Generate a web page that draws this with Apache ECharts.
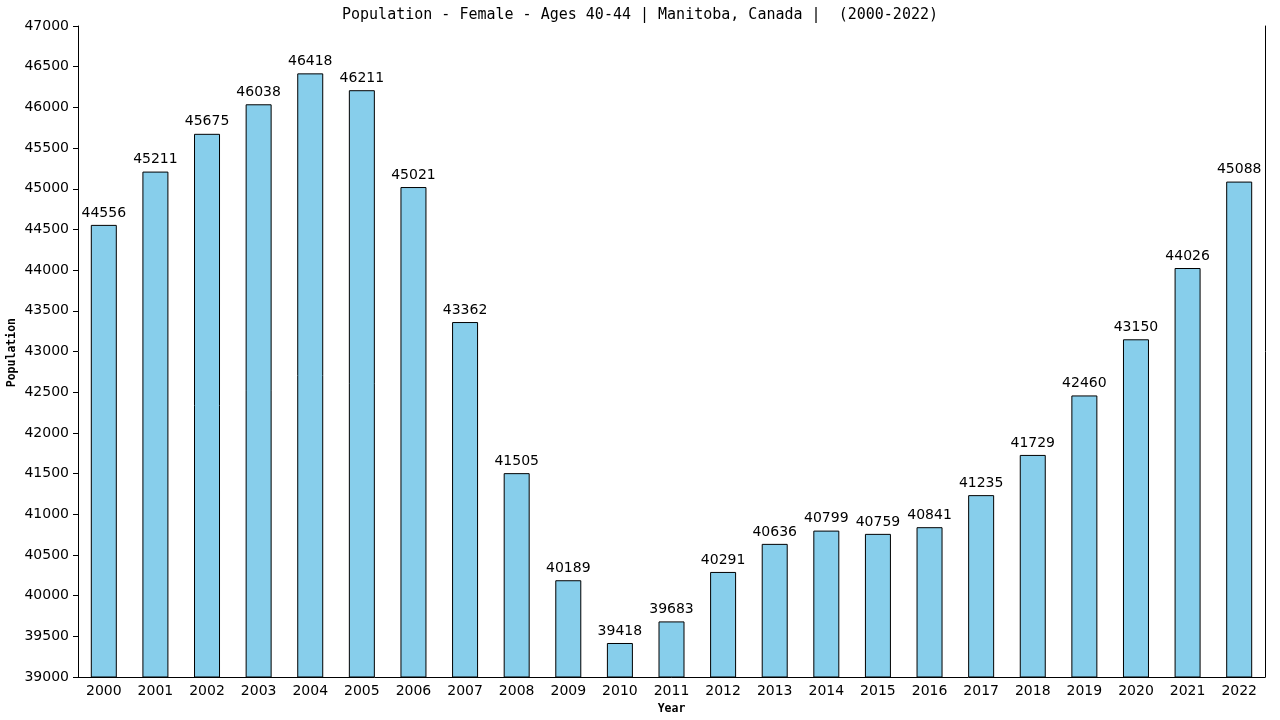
<!DOCTYPE html>
<html><head><meta charset="utf-8">
<script src="https://cdn.jsdelivr.net/npm/echarts@6/dist/echarts.min.js"></script>
<style>html,body{margin:0;padding:0;background:#fff}#c{width:1280px;height:720px}</style>
</head><body><div id="c"></div>
<script>
var years = ["2000","2001","2002","2003","2004","2005","2006","2007","2008","2009","2010","2011","2012","2013","2014","2015","2016","2017","2018","2019","2020","2021","2022"];
var population = [44556,45211,45675,46038,46418,46211,45021,43362,41505,40189,39418,39683,40291,40636,40799,40759,40841,41235,41729,42460,43150,44026,45088];
var titleText = "Population - Female - Ages 40-44 | Manitoba, Canada |  (2000-2022)";
var yName = "Population";
var chart = echarts.init(document.getElementById('c'));
chart.setOption({
  animation: false,
  title: {text: titleText, left: 'center', top: 3, textStyle: {fontFamily: 'DejaVu Sans Mono', fontSize: 15, fontWeight: 'normal', color: '#000'}},
  grid: {left: 78, right: 15, top: 26, bottom: 43, outerBoundsMode: 'none', containLabel: false},
  graphic: [{type: 'text', left: 6, top: 318, rotation: Math.PI / 2, origin: [0, 0],
    style: {text: yName, font: 'bold 11.5px "DejaVu Sans Mono"', fill: '#000'}}],
  xAxis: {type: 'category', data: years, name: 'Year', nameLocation: 'middle', nameGap: 26,
    nameTextStyle: {fontFamily: 'DejaVu Sans Mono', fontSize: 11.5, fontWeight: 'bold', color: '#000'},
    axisLine: {lineStyle: {color: '#000'}}, axisTick: {show: false},
    axisLabel: {fontFamily: 'DejaVu Sans', fontSize: 14, color: '#000', margin: 7, interval: 0}},
  yAxis: [{type: 'value', min: 39000, max: 47000, interval: 500,
    axisLine: {show: true, lineStyle: {color: '#000'}}, axisTick: {show: true, length: 5, lineStyle: {color: '#000'}},
    splitLine: {show: false}, axisLabel: {fontFamily: 'DejaVu Sans', fontSize: 14, color: '#000', margin: 9, formatter: function(v){return String(v);}}},
    {type: 'value', position: 'right', min: 39000, max: 47000, interval: 500,
    axisLine: {show: true, lineStyle: {color: '#000'}}, axisTick: {show: false}, axisLabel: {show: false}, splitLine: {show: false}}],
  series: [{type: 'bar', data: population, barWidth: 26,
    itemStyle: {color: '#87CEEB', borderColor: '#000', borderWidth: 1},
    label: {show: true, position: 'top', fontFamily: 'DejaVu Sans', fontSize: 14, color: '#000', distance: 5}}]
});
</script></body></html>
